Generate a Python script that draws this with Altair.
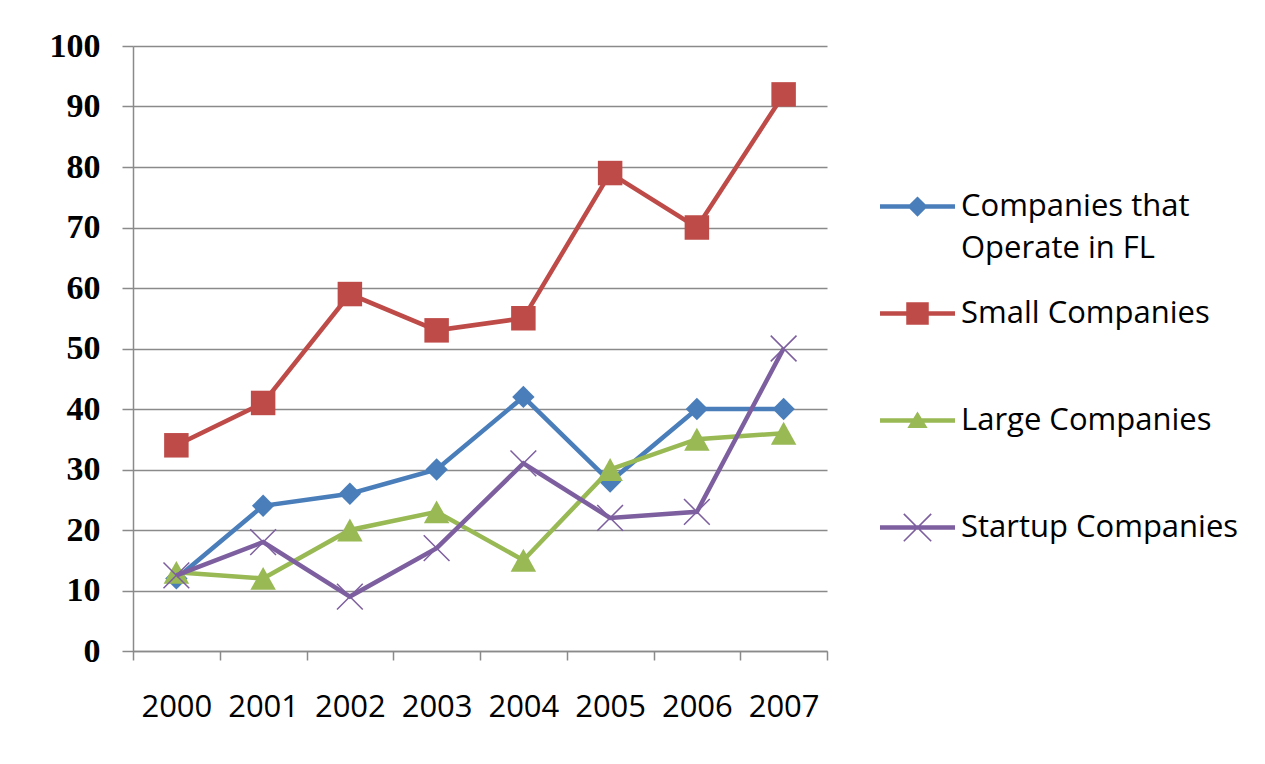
import altair as alt
import pandas as pd

years = ["2000", "2001", "2002", "2003", "2004", "2005", "2006", "2007"]
series = ["Companies that Operate in FL", "Small Companies", "Large Companies", "Startup Companies"]
fl_vals = [12, 24, 26, 30, 42, 28, 40, 40]
small_vals = [34, 41, 59, 53, 55, 79, 70, 92]
large_vals = [13, 12, 20, 23, 15, 30, 35, 36]
startup_vals = [12.5, 18, 9, 17, 31, 22, 23, 50]
colors = ["#4A7EBB", "#BE4B48", "#98B954", "#7D5FA0"]
y_ticks = [0, 10, 20, 30, 40, 50, 60, 70, 80, 90, 100]

rows = []
for s, vals in zip(series, [fl_vals, small_vals, large_vals, startup_vals]):
    for yr, v in zip(years, vals):
        rows.append({"year": yr, "series": s, "value": v})
df = pd.DataFrame(rows)

GRAY = "#8a8a8a"

x_enc = alt.X(
    "year:O",
    scale=alt.Scale(type="band", paddingInner=0, paddingOuter=0),
    axis=alt.Axis(
        title=None, labelAngle=0, tickBand="extent", tickSize=9, tickColor=GRAY,
        tickWidth=1.5, domainColor=GRAY, domainWidth=1.5, labelPadding=32,
        labelFont="Open Sans", labelFontSize=31, labelColor="black", grid=False,
    ),
)
y_enc = alt.Y(
    "value:Q",
    scale=alt.Scale(domain=[0, 100], nice=False),
    axis=alt.Axis(
        title=None, values=y_ticks, grid=True, gridColor=GRAY, gridWidth=1.5,
        tickSize=11, tickColor=GRAY, tickWidth=1.5, domainColor=GRAY, domainWidth=1.5,
        labelPadding=22, labelFont="Liberation Serif", labelFontWeight="bold",
        labelFontSize=34, labelColor="black",
    ),
)

# chart marker shapes
X_PATH = ("M-1,-0.92L-0.92,-1L1,0.92L0.92,1Z "
          "M0.92,-1L1,-0.92L-0.92,1L-1,0.92Z")
TRI_PATH = "M0,-0.9L1,0.9L-1,0.9Z"
marker_shapes = ["diamond", "square", TRI_PATH, X_PATH]
marker_sizes = [500, 600, 650, 720]

# legend symbols: line + marker, all drawn as filled areas
LINE = "M-1,-0.06H1V0.06H-1Z "
legend_paths = [
    LINE + "M0,-0.27L0.27,0L0,0.27L-0.27,0Z",
    LINE + "M-0.3,-0.3H0.3V0.3H-0.3Z",
    LINE + "M0,-0.24L0.27,0.2L-0.27,0.2Z",
    LINE + "M-0.38,-0.35L-0.35,-0.38L0.38,0.35L0.35,0.38Z M0.35,-0.38L0.38,-0.35L-0.35,0.38L-0.38,0.35Z",
]

base = alt.Chart(df)
layers = []
for s, c, shp, sz in zip(series, colors, marker_shapes, marker_sizes):
    layers.append(
        base.transform_filter(alt.datum.series == s)
        .mark_line(color=c, strokeWidth=4.5)
        .encode(x=x_enc, y=y_enc)
    )
    layers.append(
        base.transform_filter(alt.datum.series == s)
        .mark_point(shape=shp, size=sz, filled=True, color=c, opacity=1, strokeWidth=0)
        .encode(x=x_enc, y=y_enc)
    )

leg = alt.Legend(
    orient="none", legendX=747, legendY=123, title=None, padding=0,
    labelFont="Open Sans", labelFontSize=31, labelColor="black", labelLimit=0,
    labelOffset=6, symbolSize=5625, symbolStrokeWidth=0, rowPadding=12,
    labelExpr="datum.label == 'Companies that Operate in FL' ? ['Companies that', 'Operate in FL'] : [datum.label, ' ']",
)
legend_layer = (
    base.transform_filter("datum.value < -1000")
    .mark_point(filled=True, opacity=1, size=5625)
    .encode(
        x=x_enc, y=y_enc,
        color=alt.Color("series:N", scale=alt.Scale(domain=series, range=colors), legend=leg),
        shape=alt.Shape("series:N", scale=alt.Scale(domain=series, range=legend_paths), legend=leg),
    )
)
layers.append(legend_layer)

chart = (
    alt.layer(*layers)
    .properties(
        width=694, height=605,
        autosize=alt.AutoSizeParams(type="none"),
        padding={"left": 125, "top": 38, "right": 430, "bottom": 105},
        background="white",
    )
    .configure(style={"guide-label": {"lineHeight": 42}})
    .configure_view(stroke=None)
)

chart.save("out.html", embed_options={"renderer": "svg", "actions": False})
